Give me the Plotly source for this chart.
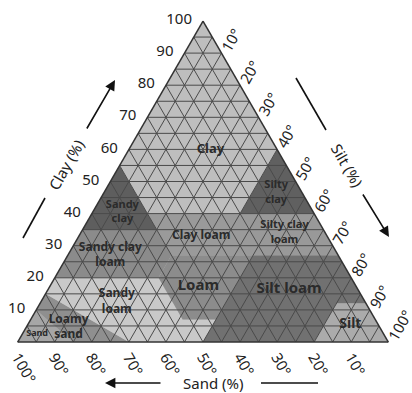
import plotly.graph_objects as go

# USDA soil texture classes: vertices as (sand, silt, clay) in percent
class_names = ["Sand", "Loamy sand", "Sandy loam", "Loam", "Silt loam", "Silt",
               "Sandy clay loam", "Clay loam", "Silty clay loam",
               "Sandy clay", "Silty clay", "Clay"]
class_vertices = [
    [(100, 0, 0), (85, 15, 0), (90, 0, 10)],
    [(85, 15, 0), (70, 30, 0), (85, 0, 15), (90, 0, 10)],
    [(70, 30, 0), (50, 50, 0), (43, 50, 7), (52, 41, 7), (52, 28, 20), (80, 0, 20), (85, 0, 15)],
    [(43, 50, 7), (52, 41, 7), (52, 28, 20), (45, 28, 27), (23, 50, 27)],
    [(50, 50, 0), (20, 80, 0), (8, 80, 12), (0, 88, 12), (0, 73, 27), (23, 50, 27), (43, 50, 7)],
    [(20, 80, 0), (0, 100, 0), (0, 88, 12), (8, 80, 12)],
    [(80, 0, 20), (52, 28, 20), (45, 28, 27), (45, 20, 35), (65, 0, 35)],
    [(45, 28, 27), (20, 53, 27), (20, 40, 40), (45, 15, 40)],
    [(20, 53, 27), (0, 73, 27), (0, 60, 40), (20, 40, 40)],
    [(65, 0, 35), (45, 20, 35), (45, 0, 55)],
    [(20, 40, 40), (0, 60, 40), (0, 40, 60)],
    [(45, 0, 55), (45, 15, 40), (20, 40, 40), (0, 40, 60), (0, 0, 100)],
]
class_fills = ["#a6a6a6", "#8f8f8f", "#c9c9c9", "#8c8c8c", "#717171", "#ababab",
               "#8b8b8b", "#9a9a9a", "#999999", "#5e5e5e", "#606060", "#bebebe"]

# label text and its (sand, silt, clay) anchor
label_texts = ["Clay", "Sandy<br>clay", "Silty<br>clay", "Clay loam", "Silty clay<br>loam",
               "Sandy clay<br>loam", "Loam", "Silt loam", "Sandy<br>loam", "Loamy<br>sand",
               "Sand", "Silt"]
label_points = [(18, 22, 60), (51.5, 8, 40.5), (7, 46.5, 46.5), (34, 33, 33), (11, 55, 34),
                (61.5, 11.5, 27), (42.5, 40, 17.5), (18.5, 65, 16.5), (67, 20.5, 12.5),
                (84, 11.5, 4.5), (93.5, 4, 2.5), (7.5, 87, 5.5)]
label_sizes = [13, 11, 11, 12, 11, 12, 15, 15, 12, 12, 9, 14]

grid_step = 5
grid_vals = list(range(grid_step, 100, grid_step))
tick_vals = list(range(10, 101, 10))
clay_ticks = [str(v) for v in tick_vals]
sand_ticks = [f"{v}°" for v in tick_vals]
silt_ticks = [f"{v}°" for v in tick_vals]

fig = go.Figure()

for name, verts, col in zip(class_names, class_vertices, class_fills):
    pts = verts + [verts[0]]
    fig.add_trace(go.Scatterternary(
        a=[p[2] for p in pts], b=[p[0] for p in pts], c=[p[1] for p in pts],
        mode="lines", fill="toself", fillcolor=col,
        line=dict(width=0, color=col), name=name, hoverinfo="name",
    ))

# triangular 5 % grid drawn over the class fills
ga, gb, gc = [], [], []
for v in grid_vals:
    r = 100 - v
    # constant clay
    ga += [v, v, None]; gb += [r, 0, None]; gc += [0, r, None]
    # constant sand
    ga += [r, 0, None]; gb += [v, v, None]; gc += [0, r, None]
    # constant silt
    ga += [r, 0, None]; gb += [0, r, None]; gc += [v, v, None]
fig.add_trace(go.Scatterternary(
    a=ga, b=gb, c=gc, mode="lines", line=dict(color="#4a4a4a", width=1),
    hoverinfo="skip", connectgaps=False,
))

for txt, pt, sz in zip(label_texts, label_points, label_sizes):
    fig.add_trace(go.Scatterternary(
        a=[pt[2]], b=[pt[0]], c=[pt[1]], mode="text", text=[f"<b>{txt}</b>"],
        textfont=dict(family="Noto Sans", size=sz, color="#2b2b2b"),
        hoverinfo="skip",
    ))

tick_font = dict(family="Noto Sans", size=15, color="#222222")
axis_common = dict(
    min=0, showgrid=False,
    showline=True, linecolor="#333333", linewidth=1.5,
    layer="above traces", tickfont=tick_font, tickmode="array", tickvals=tick_vals,
    title=dict(text=""),
)

fig.update_layout(
    width=412, height=393, autosize=False,
    margin=dict(l=0, r=0, t=0, b=0),
    paper_bgcolor="white", plot_bgcolor="white",
    showlegend=False,
    ternary=dict(
        sum=100,
        bgcolor="#bebebe",
        domain=dict(x=[17 / 412, 389 / 412], y=[51 / 393, 372 / 393]),
        aaxis=dict(**axis_common, ticktext=clay_ticks, ticks="outside", ticklen=8,
                   tickcolor="rgba(0,0,0,0)"),
        baxis=dict(**axis_common, ticktext=sand_ticks, tickangle=60, ticks=""),
        caxis=dict(**axis_common, ticktext=silt_ticks, tickangle=-60, ticks=""),
    ),
)


def px(x, y):
    return x / 412, 1 - y / 393


title_font = dict(family="Noto Sans", size=15, color="#222222")
annotations = []
# axis titles
for txt, (x, y), ang in [("Clay (%)", (66, 165), -60), ("Silt (%)", (347, 165), 60),
                         ("Sand (%)", (213, 383), 0)]:
    xp, yp = px(x, y)
    annotations.append(dict(x=xp, y=yp, xref="paper", yref="paper", text=txt,
                            xanchor="center", yanchor="middle",
                            showarrow=False, textangle=ang, font=title_font))
# arrows indicating direction of increase
for (tx, ty), (hx, hy) in [((86, 130), (115, 80)), ((362, 193), (389, 237)),
                           ((162, 383), (105, 383))]:
    xp, yp = px(hx, hy)
    annotations.append(dict(x=xp, y=yp, xref="paper", yref="paper", text="",
                            showarrow=True, arrowhead=2, arrowsize=1.3, arrowwidth=1.6,
                            arrowcolor="#111111", ax=tx - hx, ay=ty - hy))
fig.update_layout(annotations=annotations)

# plain leader strokes beside the titles
shapes = []
for (x0, y0), (x1, y1) in [((23, 238), (45, 198)), ((296, 78), (326, 130)),
                           ((261, 383), (318, 383))]:
    a0, b0 = px(x0, y0)
    a1, b1 = px(x1, y1)
    shapes.append(dict(type="line", xref="paper", yref="paper", x0=a0, y0=b0,
                       x1=a1, y1=b1, line=dict(color="#111111", width=1.6)))
fig.update_layout(shapes=shapes)

fig.write_html("out.html")
